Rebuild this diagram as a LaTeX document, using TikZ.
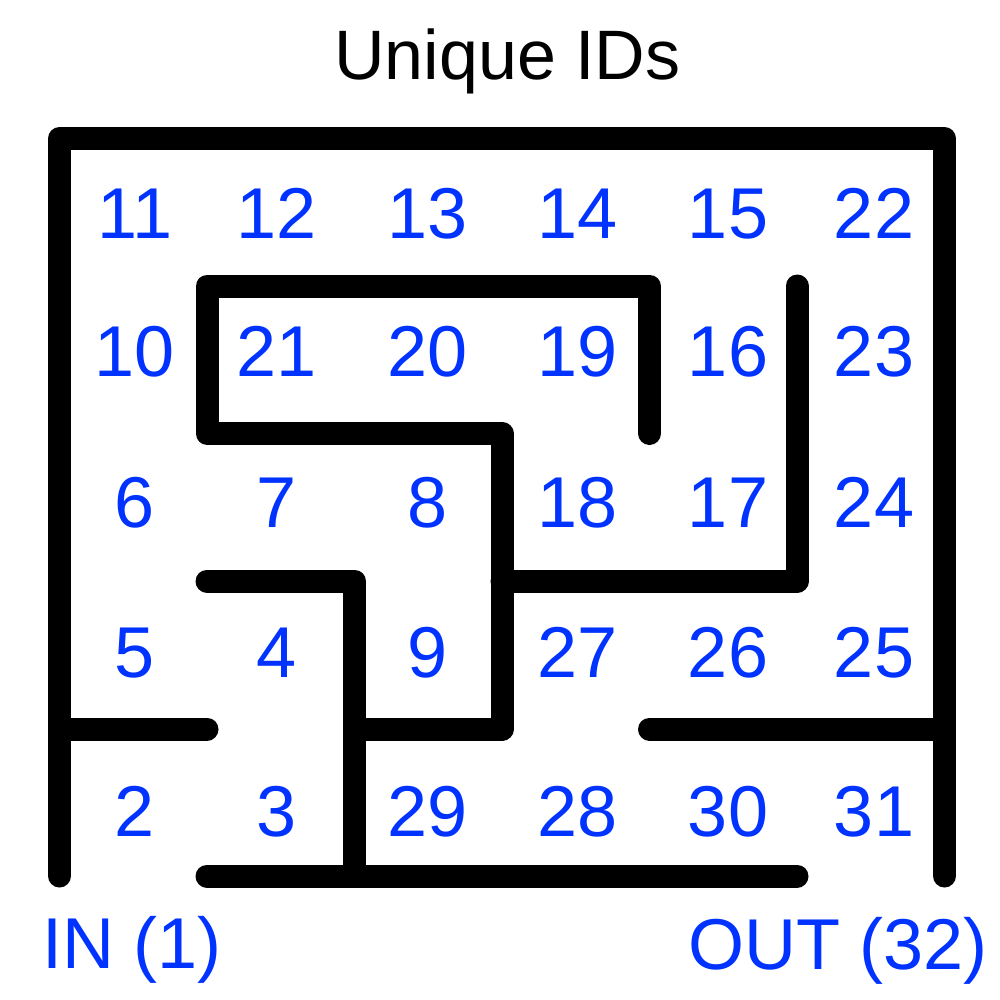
\documentclass[tikz,border=0pt]{standalone}
\usepackage{fontspec}
\setmainfont{Liberation Sans}
\definecolor{idblue}{RGB}{0,51,255}
\begin{document}
\begin{tikzpicture}[x=1pt,y=-1pt,
  wall/.style={line width=23pt,line cap=round,line join=round,black},
  cellid/.style={anchor=base,inner sep=0pt,text=idblue,font=\fontsize{72}{78}\selectfont},
  titletext/.style={anchor=base,inner sep=0pt,text=black,font=\fontsize{70}{76}\selectfont}]
\useasboundingbox (0,0) rectangle (1000,1000);
\fill[white] (0,0) rectangle (1000,1000);
% grid coordinates
\def\xa{59.5}\def\xb{207}\def\xc{354.5}\def\xd{502}\def\xe{649.5}\def\xf{797}\def\xg{944.5}
\def\ya{138.5}\def\yb{286}\def\yc{433.5}\def\yd{581}\def\ye{729}\def\yf{876}
% walls
\draw[wall] (\xa,\yf) -- (\xa,\ya) -- (\xg,\ya) -- (\xg,\yf);
\draw[wall] (\xa,\ye) -- (\xb,\ye);
\draw[wall] (\xe,\ye) -- (\xg,\ye);
\draw[wall] (\xb,\yf) -- (\xf,\yf);
\draw[wall] (\xb,\yd) -- (\xc,\yd) -- (\xc,\yf);
\draw[wall] (\xc,\ye) -- (\xd,\ye) -- (\xd,\yc) -- (\xb,\yc) -- (\xb,\yb) -- (\xe,\yb) -- (\xe,\yc);
\draw[wall] (\xd,\yd) -- (\xf,\yd) -- (\xf,\yb);
% title
\node[titletext] (title) at (507.5,80) {Unique IDs};
% cell ids
\def\ca{135}\def\cb{277}\def\cc{428}\def\cd{578}\def\ce{728}\def\cf{874}
\def\ra{238}\def\rb{376}\def\rc{527}\def\rd{677}\def\re{836}
\node[cellid] (n11) at (\ca,\ra) {11};
\node[cellid] (n12) at (\cb,\ra) {12};
\node[cellid] (n13) at (\cc,\ra) {13};
\node[cellid] (n14) at (\cd,\ra) {14};
\node[cellid] (n15) at (\ce,\ra) {15};
\node[cellid] (n22) at (\cf,\ra) {22};
\node[cellid] (n10) at (\ca,\rb) {10};
\node[cellid] (n21) at (\cb,\rb) {21};
\node[cellid] (n20) at (\cc,\rb) {20};
\node[cellid] (n19) at (\cd,\rb) {19};
\node[cellid] (n16) at (\ce,\rb) {16};
\node[cellid] (n23) at (\cf,\rb) {23};
\node[cellid] (n6) at (\ca,\rc) {6};
\node[cellid] (n7) at (\cb,\rc) {7};
\node[cellid] (n8) at (\cc,\rc) {8};
\node[cellid] (n18) at (\cd,\rc) {18};
\node[cellid] (n17) at (\ce,\rc) {17};
\node[cellid] (n24) at (\cf,\rc) {24};
\node[cellid] (n5) at (\ca,\rd) {5};
\node[cellid] (n4) at (\cb,\rd) {4};
\node[cellid] (n9) at (\cc,\rd) {9};
\node[cellid] (n27) at (\cd,\rd) {27};
\node[cellid] (n26) at (\ce,\rd) {26};
\node[cellid] (n25) at (\cf,\rd) {25};
\node[cellid] (n2) at (\ca,\re) {2};
\node[cellid] (n3) at (\cb,\re) {3};
\node[cellid] (n29) at (\cc,\re) {29};
\node[cellid] (n28) at (\cd,\re) {28};
\node[cellid] (n30) at (\ce,\re) {30};
\node[cellid] (n31) at (\cf,\re) {31};
% in / out
\node[cellid] (in) at (132,968) {IN (1)};
\node[cellid] (out) at (838,969) {OUT (32)};
\end{tikzpicture}
\end{document}
